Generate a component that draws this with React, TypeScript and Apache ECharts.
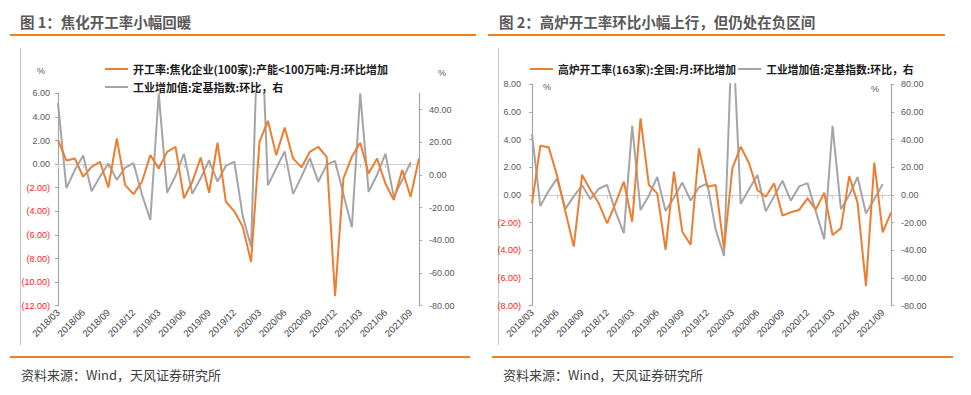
import React, { useEffect, useRef } from "react";
import * as echarts from "echarts";

const months = [
  "2018/03", "2018/04", "2018/05", "2018/06", "2018/07", "2018/08", "2018/09", "2018/10", "2018/11", "2018/12",
  "2019/01", "2019/02", "2019/03", "2019/04", "2019/05", "2019/06", "2019/07", "2019/08", "2019/09", "2019/10",
  "2019/11", "2019/12", "2020/01", "2020/02", "2020/03", "2020/04", "2020/05", "2020/06", "2020/07", "2020/08",
  "2020/09", "2020/10", "2020/11", "2020/12", "2021/01", "2021/02", "2021/03", "2021/04", "2021/05", "2021/06",
  "2021/07", "2021/08", "2021/09", "2021/10",
];

// 开工率:焦化企业(100家):产能<100万吨:月:环比增加 (left axis, chart 1)
const cokingRate = [
  2.03, 0.3, 0.48, -1.07, -0.23, 0.2, -1.98, 2.17, -1.78, -2.54,
  -1.5, 0.76, -0.37, 1.04, 1.47, -2.9, -1.5, 0.56, -2.43, 1.81,
  -3.19, -4.0, -5.3, -8.3, 1.89, 3.67, 0.76, 3.1, 0.48, -0.28,
  1.04, 1.47, 0.62, -11.2, -1.2, 0.62, 1.81, -0.79, 0.48, -1.64,
  -3.05, -0.5, -2.77, 0.48,
];

// 高炉开工率(163家):全国:月:环比增加 (left axis, chart 2)
const blastFurnaceRate = [
  -0.6, 3.56, 3.45, 1.4, -1.2, -3.73, 1.45, 0.36, -0.6, -2.05,
  -0.6, 0.96, -1.93, 5.54, 0.72, 0.12, -3.97, 1.69, -2.65, -3.6,
  3.37, 0.6, 0.72, -3.9, 1.93, 3.49, 2.29, 0.36, -0.12, 0.84,
  -1.49, -1.25, -1.08, -0.24, -1.04, 0.17, -2.89, -2.41, 1.37, -0.6,
  -6.58, 2.34, -2.7, -1.28,
];

// 工业增加值:定基指数:环比 (right axis, both charts)
const industryMoM = [
  44, -8, 3, 12, -10, -1, 7, -3, 4.5, 7.2,
  -12, -27.5, 50, -10.9, -0.5, 13, -11.5, -2, 9, -4,
  5.6, 8.2, -25, -44, 125, -6.3, 4.1, 14.4, -11.7, -1,
  10.3, -4.1, 6.2, 8.6, -12, -32, 50, -10.3, 0, 13,
  -13.4, -3.1, 7.8,
];

const title1 = "图 1：焦化开工率小幅回暖";
const title2 = "图 2：高炉开工率环比小幅上行，但仍处在负区间";
const source = "资料来源：Wind，天风证券研究所";
const nameCoking = "开工率:焦化企业(100家):产能<100万吨:月:环比增加";
const nameBF = "高炉开工率(163家):全国:月:环比增加";
const nameIVA = "工业增加值:定基指数:环比，右";

const ORANGE = "#ED7D31";
const GREY = "#A5A5A5";
const AXIS = "#A6A6A6";
const TXT = "#404040";
const NUMFONT = "Liberation Sans, Arial, sans-serif";
const CJK = "Noto Sans CJK SC, sans-serif";

const leftFmt = (v: number) =>
  v < 0 ? `{neg|(${(-v).toFixed(2)})}` : `{pos|${v.toFixed(2)}}`;
const rightFmt = (v: number) => (Math.abs(v) < 1e-9 ? "0.00" : v.toFixed(2));

function valueAxis(gridIndex: number, position: string, min: number, max: number, interval: number, left: boolean, margin: number) {
  return {
    type: "value",
    gridIndex,
    position,
    min,
    max,
    interval,
    axisLine: { show: true, onZero: false, lineStyle: { color: AXIS, width: 1.2 } },
    axisTick: { show: true, length: 3, lineStyle: { color: AXIS } },
    splitLine: { show: false },
    axisLabel: left
      ? {
          formatter: leftFmt,
          margin,
          rich: {
            neg: { color: "#FF2020", fontSize: 9, fontFamily: NUMFONT },
            pos: { color: "#595959", fontSize: 9, fontFamily: NUMFONT },
          },
        }
      : {
          formatter: rightFmt,
          margin,
          color: "#595959",
          fontSize: 9,
          fontFamily: NUMFONT,
          showMaxLabel: max === 80,
        },
  };
}

function labelXAxis(gridIndex: number) {
  return {
    type: "category",
    gridIndex,
    position: "bottom",
    data: months,
    boundaryGap: false,
    axisLine: { show: false, onZero: false },
    axisTick: { show: false },
    axisLabel: {
      interval: 2,
      rotate: 45,
      margin: 5,
      fontSize: 9.5,
      color: TXT,
      fontFamily: NUMFONT,
    },
  };
}

function zeroXAxis(gridIndex: number) {
  return {
    type: "category",
    gridIndex,
    position: "bottom",
    data: months,
    boundaryGap: false,
    axisLine: { show: true, onZero: true, lineStyle: { color: "#D0D0D0", width: 1 } },
    axisTick: { show: true, interval: 2, length: 4, lineStyle: { color: "#C8C8C8" } },
    axisLabel: { show: false },
  };
}

function text(x: number, y: number, t: string, extra: any = {}) {
  return {
    type: "text",
    x,
    y,
    z: 100,
    style: {
      text: t,
      fill: TXT,
      fontSize: 12,
      fontFamily: CJK,
      verticalAlign: "middle",
      align: "left",
      ...extra,
    },
  };
}

const legendText = { fontSize: 11, fontWeight: "bold", color: "#1a1a1a", fontFamily: CJK, lineHeight: 14 };

export default function App() {
  const ref = useRef<HTMLDivElement>(null);
  useEffect(() => {
    if (!ref.current) return;
    const chart = echarts.init(ref.current, null, { renderer: "svg" });
    const option: any = {
      animation: false,
      backgroundColor: "#ffffff",
      grid: [
        { left: 58, top: 93.3, width: 361, height: 212.4, containLabel: false },
        { left: 532, top: 84.3, width: 359, height: 221.4, containLabel: false },
      ],
      xAxis: [labelXAxis(0), zeroXAxis(0), labelXAxis(1), zeroXAxis(1)],
      yAxis: [
        valueAxis(0, "left", -12, 6, 2, true, 8),
        valueAxis(0, "right", -80, 50, 20, false, 10),
        valueAxis(1, "left", -8, 8, 2, true, 11),
        valueAxis(1, "right", -80, 80, 20, false, 10),
      ],
      legend: [
        {
          orient: "vertical",
          left: 100,
          top: 57,
          icon: "rect",
          itemWidth: 23,
          itemHeight: 2,
          itemGap: 4,
          textStyle: legendText,
          data: [nameCoking, nameIVA],
          selectedMode: false,
        },
        {
          orient: "horizontal",
          left: 525,
          top: 57,
          icon: "rect",
          itemWidth: 23,
          itemHeight: 2,
          itemGap: 2,
          textStyle: { ...legendText, fontSize: 10.8 },
          data: [nameBF, nameIVA],
          selectedMode: false,
        },
      ],
      series: [
        {
          name: nameCoking,
          type: "line",
          xAxisIndex: 0,
          yAxisIndex: 0,
          data: cokingRate,
          symbol: "none",
          lineStyle: { color: ORANGE, width: 2 },
          itemStyle: { color: ORANGE },
          z: 3,
        },
        {
          name: nameIVA,
          type: "line",
          xAxisIndex: 0,
          yAxisIndex: 1,
          data: industryMoM,
          symbol: "none",
          lineStyle: { color: GREY, width: 2 },
          itemStyle: { color: GREY },
          z: 2,
        },
        {
          name: nameBF,
          type: "line",
          xAxisIndex: 2,
          yAxisIndex: 2,
          data: blastFurnaceRate,
          symbol: "none",
          lineStyle: { color: ORANGE, width: 2 },
          itemStyle: { color: ORANGE },
          z: 3,
        },
        {
          name: nameIVA,
          type: "line",
          xAxisIndex: 2,
          yAxisIndex: 3,
          data: industryMoM,
          symbol: "none",
          lineStyle: { color: GREY, width: 2 },
          itemStyle: { color: GREY },
          z: 2,
        },
      ],
      graphic: [
        text(20, 21, title1, { fontSize: 14.5, fontWeight: "bold", fill: "#595959" }),
        text(499, 21, title2, { fontSize: 14.5, fontWeight: "bold", fill: "#595959" }),
        { type: "rect", shape: { x: 10, y: 34, width: 466, height: 2 }, style: { fill: "#F07F22" } },
        { type: "rect", shape: { x: 488, y: 34, width: 457, height: 2 }, style: { fill: "#F07F22" } },
        { type: "line", shape: { x1: 20.5, y1: 48, x2: 20.5, y2: 345 }, style: { stroke: "#C8C8C8", lineWidth: 1 } },
        { type: "line", shape: { x1: 498.5, y1: 48, x2: 498.5, y2: 345 }, style: { stroke: "#C8C8C8", lineWidth: 1 } },
        { type: "rect", shape: { x: 10, y: 356, width: 460, height: 2 }, style: { fill: "#F07F22" } },
        { type: "rect", shape: { x: 492, y: 356, width: 461, height: 2 }, style: { fill: "#F07F22" } },
        text(21, 374, source, { fontSize: 13, fill: "#404040" }),
        text(503, 374, source, { fontSize: 13, fill: "#404040" }),
        text(37, 71, "%", { fontSize: 9, fill: "#595959", fontFamily: NUMFONT }),
        text(438, 73, "%", { fontSize: 9, fill: "#595959", fontFamily: NUMFONT }),
        text(543, 87, "%", { fontSize: 9, fill: "#595959", fontFamily: NUMFONT }),
        text(871, 89, "%", { fontSize: 9, fill: "#595959", fontFamily: NUMFONT }),
      ],
    };
    chart.setOption(option);
    return () => chart.dispose();
  }, []);
  return (
    <div
      ref={ref}
      style={{ position: "fixed", left: 0, top: 0, width: 971, height: 395, background: "#fff" }}
    />
  );
}
